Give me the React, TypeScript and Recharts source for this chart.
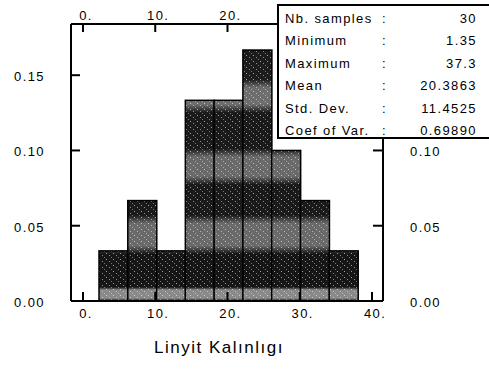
import { BarChart, Bar, XAxis, YAxis } from 'recharts';

// histogram of lignite thickness, 9 bins of width 4
const bins = ['2-6', '6-10', '10-14', '14-18', '18-22', '22-26', '26-30', '30-34', '34-38'];
const binCenters = [4, 8, 12, 16, 20, 24, 28, 32, 36];
const freqs = [0.0333, 0.0667, 0.0333, 0.1333, 0.1333, 0.1667, 0.1, 0.0667, 0.0333];

const xTicks = [0, 10, 20, 30, 40];
const topTicks = [0, 10, 20]; // 30 and 40 sit under the stats box
const yTicks = [0, 0.05, 0.1, 0.15];
const rightTicks = [0, 0.05, 0.1];

const statLabels = ['Nb. samples', 'Minimum', 'Maximum', 'Mean', 'Std. Dev.', 'Coef of Var.'];
const statValues = ['30', '1.35', '37.3', '20.3863', '11.4525', '0.69890'];

const data = bins.map((bin, i) => ({ bin, x: binCenters[i], freq: freqs[i] }));

const FONT = '"Liberation Sans", Arial, sans-serif';
const txt = { fontFamily: FONT, fontSize: 13, fill: '#000', letterSpacing: 1.4 };

const BottomTick = ({ x, y, payload }: any) => (
  <g>
    <line x1={x} x2={x} y1={y} y2={y - 9} stroke="#000" strokeWidth={2} />
    <text x={x + 3} y={y + 17} textAnchor="middle" style={txt}>{`${payload.value}.`}</text>
  </g>
);

const TopTick = ({ x, y, payload }: any) => (
  <g>
    <line x1={x} x2={x} y1={y} y2={y + 8} stroke="#000" strokeWidth={2} />
    <text x={x + 3} y={y - 4} textAnchor="middle" style={txt}>{`${payload.value}.`}</text>
  </g>
);

const LeftTick = ({ x, y, payload }: any) => (
  <g>
    <line x1={x} x2={x + 9} y1={y} y2={y} stroke="#000" strokeWidth={2} />
    <text x={x - 26} y={y + 6} textAnchor="end" style={txt}>{payload.value.toFixed(2)}</text>
  </g>
);

const RightTick = ({ x, y, payload }: any) => (
  <g>
    <line x1={x} x2={x - 10} y1={y} y2={y} stroke="#000" strokeWidth={2} />
    <text x={x + 27} y={y + 6} textAnchor="start" style={txt}>{payload.value.toFixed(2)}</text>
  </g>
);

// dithered look: dark bars with lighter grey bands
const DitherBar = (props: any) => {
  const { x, y, width, height } = props;
  return (
    <g>
      <rect x={x} y={y} width={width} height={height} fill="url(#bands)" />
      <rect x={x} y={y} width={width} height={height} fill="url(#speck)" />
      <rect x={x} y={y} width={width} height={height} fill="none" stroke="#000" strokeWidth={1.5} />
    </g>
  );
};

export default function App() {
  return (
    <div style={{ position: 'absolute', left: 0, top: 0, width: 489, height: 369, background: '#fff', overflow: 'hidden' }}>
      <BarChart
        width={489}
        height={369}
        data={data}
        margin={{ top: 23, right: 105, bottom: 67, left: 70 }}
        barCategoryGap={0}
      >
        <defs>
          <linearGradient id="bands" gradientUnits="userSpaceOnUse" x1={0} y1={24} x2={0} y2={301}>
            <stop offset="0" stopColor="#1c1c1c" />
            <stop offset="0.2" stopColor="#1c1c1c" />
            <stop offset="0.23" stopColor="#6e6e6e" />
            <stop offset="0.29" stopColor="#6e6e6e" />
            <stop offset="0.32" stopColor="#1a1a1a" />
            <stop offset="0.45" stopColor="#1a1a1a" />
            <stop offset="0.48" stopColor="#6a6a6a" />
            <stop offset="0.55" stopColor="#6a6a6a" />
            <stop offset="0.58" stopColor="#1a1a1a" />
            <stop offset="0.69" stopColor="#1a1a1a" />
            <stop offset="0.72" stopColor="#6a6a6a" />
            <stop offset="0.8" stopColor="#6a6a6a" />
            <stop offset="0.83" stopColor="#161616" />
            <stop offset="0.95" stopColor="#161616" />
            <stop offset="0.96" stopColor="#8a8a8a" />
            <stop offset="0.99" stopColor="#8a8a8a" />
            <stop offset="1" stopColor="#111" />
          </linearGradient>
          <pattern id="speck" patternUnits="userSpaceOnUse" width={7} height={6}>
            <rect x={1} y={1} width={1} height={1} fill="#fff" opacity={0.6} />
            <rect x={4} y={3} width={1} height={1} fill="#fff" opacity={0.5} />
            <rect x={6} y={5} width={1} height={1} fill="#fff" opacity={0.4} />
          </pattern>
        </defs>
        <XAxis xAxisId="cat" dataKey="bin" type="category" hide padding={{ left: 28, right: 25 }} />
        <XAxis
          xAxisId="bottom"
          dataKey="x"
          type="number"
          orientation="bottom"
          domain={[-1.66, 41.52]}
          allowDataOverflow
          ticks={xTicks}
          height={1}
          tickSize={0}
          tickMargin={0}
          tickLine={false}
          tick={<BottomTick />}
          axisLine={{ stroke: '#000', strokeWidth: 2 }}
        />
        <XAxis
          xAxisId="top"
          dataKey="x"
          type="number"
          orientation="top"
          domain={[-1.66, 41.52]}
          allowDataOverflow
          ticks={topTicks}
          height={1}
          tickSize={0}
          tickMargin={0}
          tickLine={false}
          tick={<TopTick />}
          axisLine={{ stroke: '#000', strokeWidth: 2 }}
        />
        <YAxis
          yAxisId="left"
          orientation="left"
          domain={[0, 0.184]}
          allowDataOverflow
          ticks={yTicks}
          width={1}
          tickSize={0}
          tickMargin={0}
          tickLine={false}
          tick={<LeftTick />}
          axisLine={{ stroke: '#000', strokeWidth: 2 }}
        />
        <YAxis
          yAxisId="right"
          orientation="right"
          domain={[0, 0.184]}
          allowDataOverflow
          ticks={rightTicks}
          width={1}
          tickSize={0}
          tickMargin={0}
          tickLine={false}
          tick={<RightTick />}
          axisLine={{ stroke: '#000', strokeWidth: 2 }}
        />
        <Bar xAxisId="cat" yAxisId="left" dataKey="freq" shape={<DitherBar />} isAnimationActive={false} />
      </BarChart>

      {/* statistics box */}
      <div
        style={{
          position: 'absolute',
          left: 277,
          top: 4,
          width: 210,
          height: 131,
          background: '#fff',
          borderTop: '2px solid #000',
          borderLeft: '2px solid #000',
          borderBottom: '2px solid #000',
          fontFamily: FONT,
          fontSize: 13,
          letterSpacing: 1.4,
          color: '#000',
        }}
      >
        {statLabels.map((label, i) => (
          <div key={label} style={{ position: 'absolute', top: 2 + i * 22.4, left: 0, width: 210, height: 22, lineHeight: '22px' }}>
            <span style={{ position: 'absolute', left: 6 }}>{label}</span>
            <span style={{ position: 'absolute', left: 103 }}>:</span>
            <span style={{ position: 'absolute', right: 12 }}>{statValues[i]}</span>
          </div>
        ))}
      </div>

      <div
        style={{
          position: 'absolute',
          left: 0,
          width: 438,
          top: 338,
          textAlign: 'center',
          fontFamily: FONT,
          fontSize: 17,
          letterSpacing: 1.5,
          color: '#000',
        }}
      >
        Linyit Kalınlıgı
      </div>
    </div>
  );
}
